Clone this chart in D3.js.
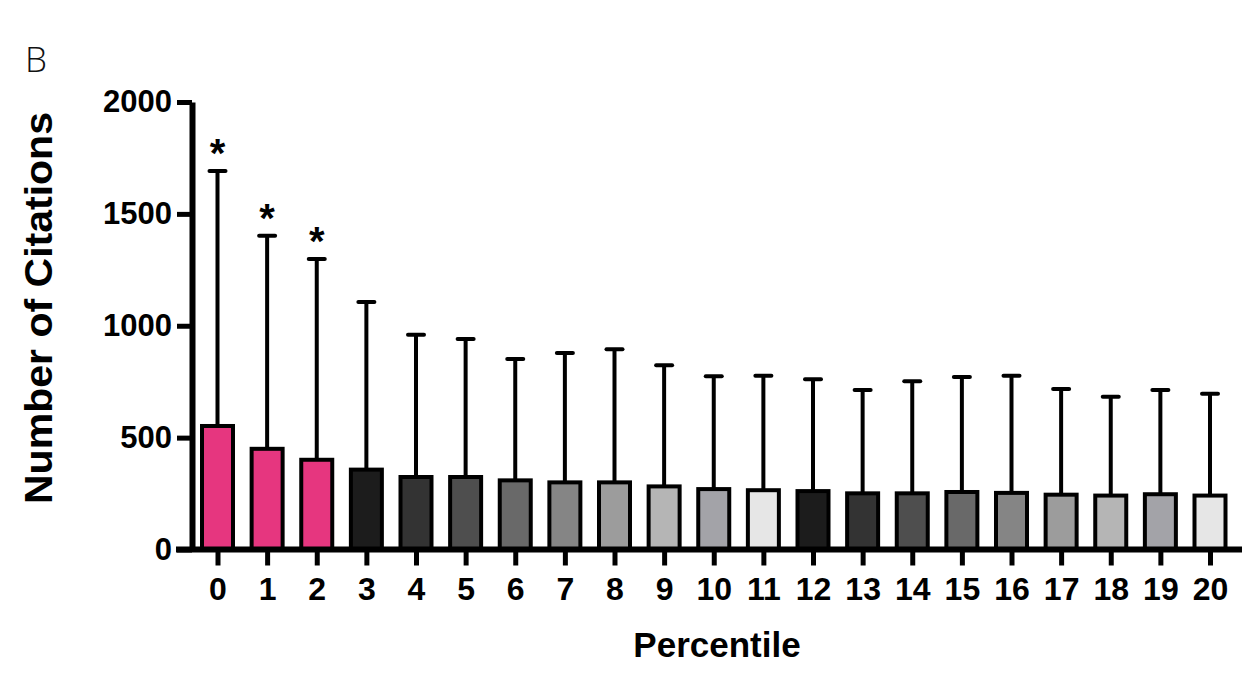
<!DOCTYPE html>
<html>
<head>
<meta charset="utf-8">
<script src="https://cdn.jsdelivr.net/npm/d3@7"></script>
<style>
  html, body { margin: 0; padding: 0; background: #fff; }
  svg { display: block; }
  text { font-family: "Liberation Sans", Arial, Helvetica, sans-serif; }
</style>
</head>
<body>
<svg id="chart" width="1254" height="676"></svg>
<script>
// ---- data ----
const categories = ["0","1","2","3","4","5","6","7","8","9","10","11","12","13","14","15","16","17","18","19","20"];
const means = [552, 450, 401, 357, 324, 324, 309, 300, 300, 282, 270, 265, 261, 251, 251, 257, 253, 245, 241, 247, 241];
const errTops = [1692, 1402, 1298, 1106, 960, 941, 851, 878, 895, 823, 774, 777, 761, 713, 752, 771, 777, 717, 683, 713, 696];
const significant = ["0", "1", "2"];
const barColors = ["#e6367f","#e6367f","#e6367f",
  "#1c1c1c","#333333","#4e4e4e","#696969","#858585","#9c9c9c","#b5b5b5","#a3a3a8","#e6e6e6",
  "#1c1c1c","#333333","#4e4e4e","#696969","#858585","#9c9c9c","#b5b5b5","#a3a3a8","#e6e6e6"];
const yTicks = [0, 500, 1000, 1500, 2000];
const yTitle = "Number of Citations";
const xTitle = "Percentile";
const panelLabel = "B";

// ---- layout ----
const svg = d3.select("#chart");
const axisX = 192;       // y-axis line position
const baseY = 549.5;     // x-axis line position
const topY = 102;
const x = d3.scalePoint().domain(categories).range([217.5, 1210]);
const y = d3.scaleLinear().domain([0, 2000]).range([baseY, topY]);
const barW = 31;
const capW = 20;

// panel label
svg.append("text")
  .attr("x", 25).attr("y", 72)
  .style("font-family", "'Open Sans', 'DejaVu Sans', sans-serif")
  .style("font-size", "35px").style("font-weight", 300)
  .attr("fill", "#111")
  .text(panelLabel);

const rows = categories.map((c, i) => ({ c, m: means[i], e: errTops[i], col: barColors[i] }));

// error bars (behind bars)
const eb = svg.append("g");
eb.selectAll("line.stem").data(rows).join("line")
  .attr("x1", d => x(d.c)).attr("x2", d => x(d.c))
  .attr("y1", d => y(d.m)).attr("y2", d => y(d.e))
  .attr("stroke", "#000").attr("stroke-width", 4);
eb.selectAll("line.cap").data(rows).join("line")
  .attr("x1", d => x(d.c) - capW / 2 + 2).attr("x2", d => x(d.c) + capW / 2 - 2)
  .attr("y1", d => y(d.e)).attr("y2", d => y(d.e))
  .attr("stroke", "#000").attr("stroke-width", 4).attr("stroke-linecap", "round");

// bars
svg.append("g").selectAll("rect").data(rows).join("rect")
  .attr("x", d => x(d.c) - barW / 2)
  .attr("y", d => y(d.m))
  .attr("width", barW)
  .attr("height", d => baseY - y(d.m))
  .attr("fill", d => d.col)
  .attr("stroke", "#000").attr("stroke-width", 4);

// significance stars
svg.append("g").selectAll("text").data(rows.filter(d => significant.includes(d.c))).join("text")
  .attr("x", d => x(d.c)).attr("y", d => y(d.e) - 4)
  .attr("text-anchor", "middle")
  .style("font-size", "40px").style("font-weight", "bold")
  .text("*");

// y axis
const yAxis = d3.axisLeft(y).tickValues(yTicks).tickSize(15).tickSizeOuter(0).tickPadding(5).tickFormat(d3.format("d"));
const gy = svg.append("g").attr("transform", `translate(${axisX},0)`).call(yAxis);
gy.select(".domain").attr("stroke", "#000").attr("stroke-width", 6);
gy.selectAll(".tick line").attr("stroke", "#000").attr("stroke-width", 5);
gy.selectAll(".tick text")
  .style("font-family", "'Liberation Sans', Arial, sans-serif")
  .style("font-size", "31px").style("font-weight", "bold").attr("fill", "#000");

// x axis
const xAxis = d3.axisBottom(x).tickSize(16).tickSizeOuter(0);
const gx = svg.append("g").attr("transform", `translate(0,${baseY})`).call(xAxis);
gx.select(".domain").remove();
gx.selectAll(".tick line").attr("stroke", "#000").attr("stroke-width", 5);
gx.selectAll(".tick text")
  .attr("y", 50.5).attr("dy", null)
  .style("font-family", "'Liberation Sans', Arial, sans-serif")
  .style("font-size", "32px").style("font-weight", "bold").attr("fill", "#000");
svg.append("line")
  .attr("x1", 176).attr("x2", 1242).attr("y1", baseY).attr("y2", baseY)
  .attr("stroke", "#000").attr("stroke-width", 6);

// titles
svg.append("text")
  .attr("transform", "translate(52,308) rotate(-90)")
  .attr("text-anchor", "middle")
  .attr("textLength", 392).attr("lengthAdjust", "spacingAndGlyphs")
  .style("font-size", "38px").style("font-weight", "bold")
  .text(yTitle);
svg.append("text")
  .attr("x", 717).attr("y", 657)
  .attr("text-anchor", "middle")
  .style("font-size", "35px").style("font-weight", "bold")
  .text(xTitle);
</script>
</body>
</html>
